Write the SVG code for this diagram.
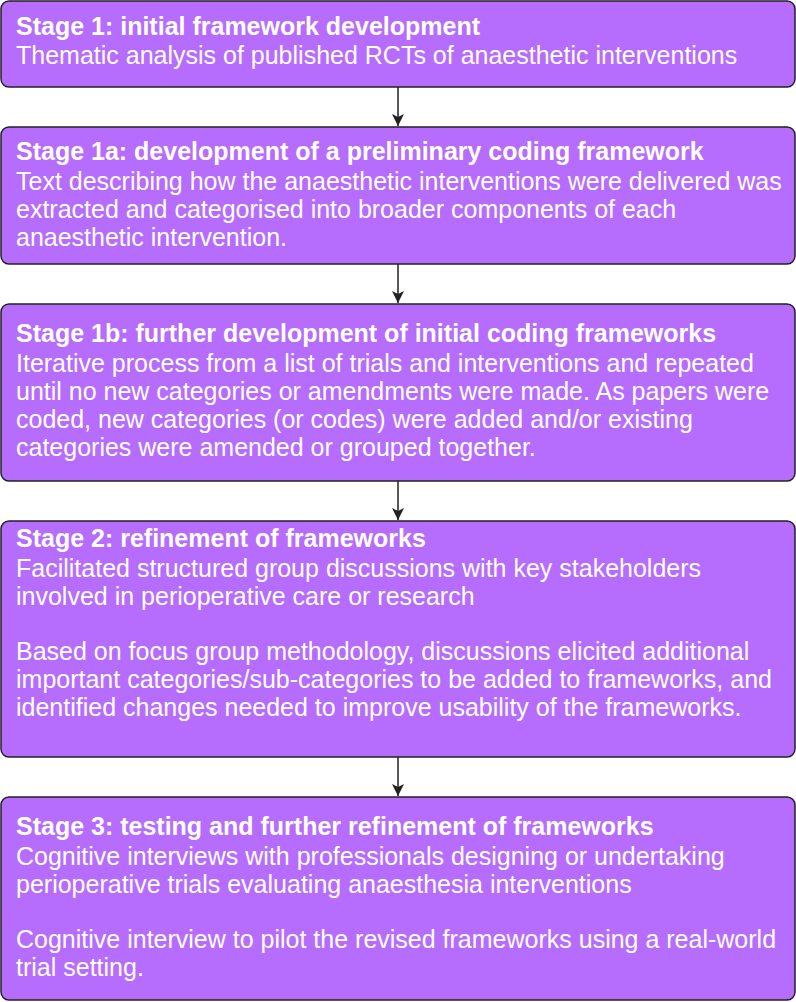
<svg xmlns="http://www.w3.org/2000/svg" width="796" height="1002" viewBox="0 0 796 1002">
<style>
.box{fill:#b66dfe;stroke:#222;stroke-width:1.5}
.t{font-family:"Liberation Sans",Arial,sans-serif;font-size:25px;fill:#fff}
.h{font-weight:bold}
.c{stroke:#222;stroke-width:1.5;fill:none}
</style>
<defs>
<marker id="ah" viewBox="0 0 12 12" refX="12" refY="6" markerWidth="12" markerHeight="12" markerUnits="userSpaceOnUse" orient="auto">
<path d="M0,0 L12,6 L0,12 L3,6 Z" fill="#222"/>
</marker>
</defs>
<rect width="796" height="1002" fill="#fff"/>
<g id="connectors">
<line class="c" x1="398" y1="87" x2="398" y2="126" marker-end="url(#ah)"/>
<line class="c" x1="398" y1="264" x2="398" y2="303" marker-end="url(#ah)"/>
<line class="c" x1="398" y1="481" x2="398" y2="520" marker-end="url(#ah)"/>
<line class="c" x1="398" y1="757" x2="398" y2="796" marker-end="url(#ah)"/>
</g>
<g id="stage1">
<rect class="box" x="1" y="1" width="794" height="86" rx="8"/>
<text class="t h" x="16" y="35">Stage 1: initial framework development</text>
<text class="t" x="16" y="64">Thematic analysis of published RCTs of anaesthetic interventions</text>
</g>
<g id="stage1a">
<rect class="box" x="1" y="127" width="794" height="137" rx="8"/>
<text class="t h" x="16" y="160">Stage 1a: development of a preliminary coding framework</text>
<text class="t" x="16" y="190">Text describing how the anaesthetic interventions were delivered was</text>
<text class="t" x="16" y="218">extracted and categorised into broader components of each</text>
<text class="t" x="16" y="246">anaesthetic intervention.</text>
</g>
<g id="stage1b">
<rect class="box" x="1" y="304" width="794" height="177" rx="8"/>
<text class="t h" x="16" y="342">Stage 1b: further development of initial coding frameworks</text>
<text class="t" x="16" y="372">Iterative process from a list of trials and interventions and repeated</text>
<text class="t" x="16" y="400">until no new categories or amendments were made. As papers were</text>
<text class="t" x="16" y="428">coded, new categories (or codes) were added and/or existing</text>
<text class="t" x="16" y="456">categories were amended or grouped together.</text>
</g>
<g id="stage2">
<rect class="box" x="1" y="521" width="794" height="236" rx="8"/>
<text class="t h" x="16" y="547">Stage 2: refinement of frameworks</text>
<text class="t" x="16" y="577">Facilitated structured group discussions with key stakeholders</text>
<text class="t" x="16" y="605">involved in perioperative care or research</text>
<text class="t" x="16" y="660">Based on focus group methodology, discussions elicited additional</text>
<text class="t" x="16" y="688">important categories/sub-categories to be added to frameworks, and</text>
<text class="t" x="16" y="716">identified changes needed to improve usability of the frameworks.</text>
</g>
<g id="stage3">
<rect class="box" x="1" y="797" width="794" height="203" rx="8"/>
<text class="t h" x="16" y="835">Stage 3: testing and further refinement of frameworks</text>
<text class="t" x="16" y="865">Cognitive interviews with professionals designing or undertaking</text>
<text class="t" x="16" y="893">perioperative trials evaluating anaesthesia interventions</text>
<text class="t" x="16" y="948">Cognitive interview to pilot the revised frameworks using a real-world</text>
<text class="t" x="16" y="976">trial setting.</text>
</g>
</svg>
